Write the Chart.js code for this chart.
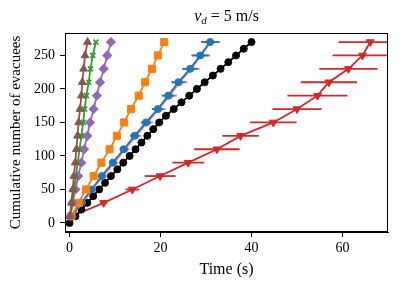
<!DOCTYPE html>
<html>
<head>
<meta charset="utf-8">
<script src="https://cdn.jsdelivr.net/npm/chart.js@4.4.1/dist/chart.umd.min.js"></script>
<style>
    html, body { margin: 0; padding: 0; background: #fff; }
    #wrap { width: 407px; height: 291px; }
</style>
</head>
<body>
<div id="wrap"><canvas id="evacChart" width="407" height="291"></canvas></div>
<script>
// Cumulative counts used by most runs
const levels = [10, 30, 50, 70, 90, 110, 130, 150, 170, 190, 210, 230, 250, 270];

// Times (s) for each run
const brownX  = [0.1, 0.4, 0.7, 0.95, 1.25, 1.5, 1.75, 2.0, 2.3, 2.6, 2.8, 3.1, 3.4, 3.95];
const greenX  = [0.2, 0.6, 1.0, 1.4, 1.8, 2.2, 2.6, 3.0, 3.3, 3.7, 4.2, 4.6, 5.1, 5.8];
const purpleX = [0.2, 0.7, 1.3, 1.9, 2.6, 3.2, 3.9, 4.5, 5.3, 6.0, 6.7, 7.5, 8.3, 9.1];
const orangeX = [0.4, 2.0, 3.6, 5.3, 7.0, 8.8, 10.4, 12.0, 13.5, 15.2, 16.6, 18.1, 19.4, 20.8];
const blueX   = [0.5, 2.6, 4.8, 7.1, 9.5, 11.9, 14.3, 16.8, 19.4, 21.7, 23.9, 26.5, 28.7, 30.9];
const blueErr = [0.1, 0.3, 0.4, 0.6, 0.7, 0.9, 1.0, 1.1, 1.3, 1.4, 1.5, 1.7, 1.9, 2.0];
const pinkX   = [0.6, 2.8, 5.0, 7.4, 9.8, 12.2, 14.6, 17.1, 19.6, 22.0, 24.2, 26.7, 28.9, 31.0];
const pinkErr = [0.2, 0.4, 0.5, 0.7, 0.9, 1.0, 1.2, 1.3, 1.5, 1.6, 1.7, 1.9, 2.0, 2.1];
const redX    = [0.5, 7.5, 13.8, 19.9, 26.1, 32.4, 37.6, 44.8, 50.0, 54.5, 57.0, 61.3, 64.4, 66.1];
const redErr  = [0.3, 0.8, 1.5, 3.4, 3.5, 5.0, 4.0, 5.1, 5.4, 6.6, 6.2, 6.4, 6.6, 7.0];

// Black run is sampled every 10 evacuees
const blackY = [0, 10, 20, 30, 40, 50, 60, 70, 80, 90, 100, 110, 120, 130, 140,
                150, 160, 170, 180, 190, 200, 210, 220, 230, 240, 250, 260, 270];
const blackX = [0, 1.3, 2.6, 3.9, 5.2, 6.5, 7.8, 9.1, 10.5, 11.8, 13.2, 14.5, 15.8, 17.1, 18.4,
                19.7, 21.2, 22.9, 24.6, 26.3, 28.0, 29.7, 31.5, 33.2, 34.9, 36.6, 38.3, 40.0];

// Axis ticks
const xTicks = [0, 20, 40, 60];
const yTicks = [0, 50, 100, 150, 200, 250];

const serif = "'Liberation Serif', 'DejaVu Serif', serif";

// Function to zip x and y arrays into points
function toPoints(xs, ys) {
    return xs.map((x, i) => ({ x: x, y: ys[i] }));
}

function makeSet(label, xs, ys, color, style, radius, extra) {
    return Object.assign({
        label: label,
        data: toPoints(xs, ys),
        showLine: true,
        borderColor: color,
        backgroundColor: color,
        borderWidth: 1.8,
        pointStyle: style,
        pointRadius: radius,
        pointBorderWidth: 1,
        pointBorderColor: color,
        pointBackgroundColor: color,
        fill: false
    }, extra || {});
}

// Horizontal error bars, drawn just before their dataset
const xErrorBars = {
    id: 'xErrorBars',
    beforeDatasetDraw(chart, args) {
        const ds = chart.data.datasets[args.index];
        if (!ds.xerr) return;
        const ctx = chart.ctx;
        const xs = chart.scales.x, ys = chart.scales.y;
        const area = chart.chartArea;
        ctx.save();
        ctx.beginPath();
        ctx.rect(area.left, area.top, area.right - area.left, area.bottom - area.top);
        ctx.clip();
        ctx.strokeStyle = ds.borderColor;
        ctx.lineWidth = 1.8;
        ds.data.forEach((p, i) => {
            const e = ds.xerr[i];
            const py = ys.getPixelForValue(p.y);
            ctx.beginPath();
            ctx.moveTo(xs.getPixelForValue(p.x - e), py);
            ctx.lineTo(xs.getPixelForValue(p.x + e), py);
            ctx.stroke();
        });
        ctx.restore();
    }
};

// Frame around the plot and the title with a subscript
const frameAndTitle = {
    id: 'frameAndTitle',
    afterDraw(chart) {
        const ctx = chart.ctx;
        const a = chart.chartArea;
        ctx.save();
        ctx.strokeStyle = '#000';
        ctx.lineWidth = 1;
        ctx.strokeRect(a.left + 0.5, a.top + 0.5, a.right - a.left - 1, a.bottom - a.top - 1);

        const cx = (a.left + a.right) / 2;
        const base = 21;
        const parts = [
            { t: 'v', font: 'italic 16px ' + serif, dy: 0 },
            { t: 'd', font: 'italic 11px ' + serif, dy: 3 },
            { t: ' = 5 m/s', font: '16px ' + serif, dy: 0 }
        ];
        let total = 0;
        parts.forEach(p => { ctx.font = p.font; p.w = ctx.measureText(p.t).width; total += p.w; });
        let x = cx - total / 2;
        ctx.fillStyle = '#000';
        ctx.textBaseline = 'alphabetic';
        parts.forEach(p => {
            ctx.font = p.font;
            ctx.fillText(p.t, x, base + p.dy);
            x += p.w;
        });
        ctx.restore();
    }
};

const datasets = [
    makeSet('brown', brownX, levels, '#8c564b', 'triangle', 4.5),
    makeSet('green', greenX, levels, '#2ca02c', 'crossRot', 3.5, { pointBorderWidth: 1.8 }),
    makeSet('purple', purpleX, levels, '#9467bd', 'rectRot', 4.6),
    makeSet('orange', orangeX, levels, '#ff7f0e', 'rect', 5),
    makeSet('blue', blueX, levels, '#1f77b4', 'circle', 3.5, { xerr: blueErr }),
    makeSet('pink', pinkX, levels, '#e377c2', 'circle', 3, { xerr: pinkErr }),
    makeSet('black', blackX, blackY, '#000000', 'circle', 3.5),
    makeSet('red', redX, levels, '#d62728', 'triangle', 4.5, { xerr: redErr, pointRotation: 180 })
];

new Chart(document.getElementById('evacChart').getContext('2d'), {
    type: 'scatter',
    data: { datasets: datasets },
    options: {
        responsive: false,
        animation: false,
        layout: { padding: { left: 0, right: 19, top: 33, bottom: 0 } },
        plugins: {
            legend: { display: false },
            tooltip: { enabled: false }
        },
        scales: {
            x: {
                type: 'linear',
                min: -1,
                max: 70,
                afterFit: s => { s.height = 59; },
                afterBuildTicks: s => { s.ticks = xTicks.map(v => ({ value: v })); },
                grid: { drawOnChartArea: false, drawTicks: true, tickLength: 5, color: '#000' },
                border: { display: true, color: '#000', width: 1 },
                ticks: { color: '#000', padding: 3, font: { family: serif, size: 14 } },
                title: {
                    display: true,
                    text: 'Time (s)',
                    color: '#000',
                    font: { family: serif, size: 16 },
                    padding: { top: 0, bottom: 12 }
                }
            },
            y: {
                type: 'linear',
                min: -13.5,
                max: 283.5,
                afterFit: s => { s.width = 65; },
                afterBuildTicks: s => { s.ticks = yTicks.map(v => ({ value: v })); },
                grid: { drawOnChartArea: false, drawTicks: true, tickLength: 5, color: '#000' },
                border: { display: true, color: '#000', width: 1 },
                ticks: { color: '#000', padding: 5, font: { family: serif, size: 14 } },
                title: {
                    display: true,
                    text: 'Cumulative number of evacuees',
                    color: '#000',
                    font: { family: serif, size: 15 },
                    padding: { top: 7, bottom: 0 }
                }
            }
        }
    },
    plugins: [xErrorBars, frameAndTitle]
});
</script>
</body>
</html>
